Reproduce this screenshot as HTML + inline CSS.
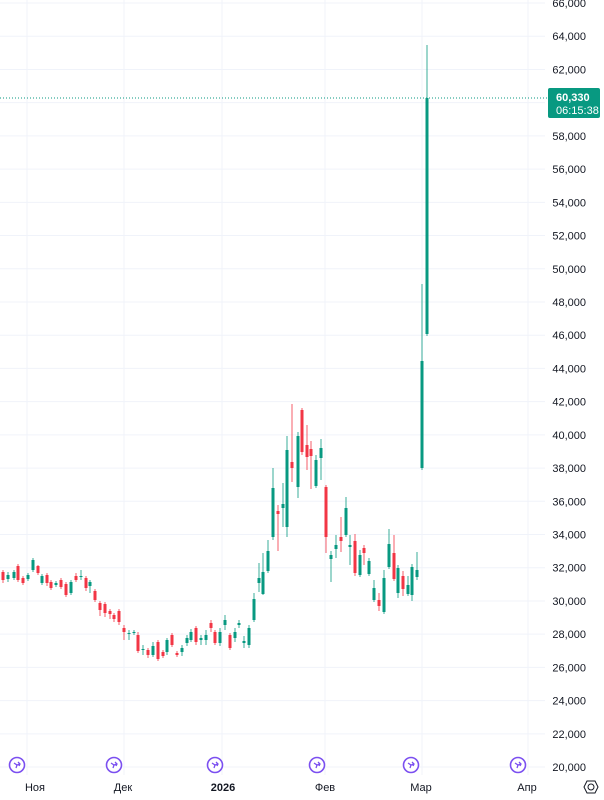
<!DOCTYPE html>
<html><head><meta charset="utf-8"><style>
body{margin:0;background:#fff;width:604px;height:800px;overflow:hidden}
svg{display:block;font-family:"Liberation Sans",sans-serif}
</style></head><body>
<svg id="s" width="604" height="800" xmlns="http://www.w3.org/2000/svg"></svg>
<script>
const s=document.getElementById('s');let h='';
const Y=v=>3+(66000-v)/2000*33.22;
for(let v=20000;v<=66000;v+=2000){const y=Y(v);h+=`<line x1="0" x2="545" y1="${y}" y2="${y}" stroke="#f0f3fa"/>`;
h+=`<text x="586" y="${y+4}" font-size="11" fill="#131722" text-anchor="end">${(v/1000)},000</text>`;}
[27,124,222,325,422,528].forEach(x=>h+=`<line x1="${x}" x2="${x}" y1="0" y2="775" stroke="#f0f3fa"/>`);
// candles: x, bodyTop, bodyBot, wickTop, wickBot, green?
const c=[[3,572,580,570,583,0],[8,575,579,572,582,1],[14,572,578,570,580,1],[18,566,580,564,582,0],[23,578,583,576,585,0],[28,575,579,573,581,1],[33,560,570,558,572,1],[38,566,573,565,575,0],[42,576,583,574,585,1],[47,575,583,573,586,0],[51,582,588,580,590,0],[56,583,585,581,587,1],[61,580,587,578,589,0],[66,584,595,582,597,0],[71,582,593,580,595,1],[76,576,580,573,582,0],[81,576,577,570,580,1],[86,578,588,576,591,0],[90,582,586,580,593,1],[95,591,600,589,602,0],[100,603,610,601,616,0],[105,604,613,602,617,0],[110,611,614,609,619,0],[114,615,619,613,622,0],[119,611,622,609,625,0],[124,628,632,625,640,0],[129,633,634,630,640,1],[134,632,633,630,635,1],[138,635,651,632,653,0],[143,649,650,645,655,1],[148,650,655,648,658,0],[153,646,655,642,657,1],[158,642,659,640,661,0],[163,652,656,650,658,0],[167,640,652,638,655,1],[172,635,645,633,647,0],[177,653,655,651,657,0],[182,648,652,645,656,1],[187,638,643,635,646,1],[191,632,640,629,642,1],[196,628,642,626,645,0],[201,638,640,635,645,1],[206,635,640,630,645,1],[211,623,628,620,632,0],[215,632,643,630,645,0],[220,632,643,628,646,1],[225,620,625,615,630,1],[230,635,648,633,650,0],[235,632,638,628,642,1],[239,623,625,620,628,1],[244,641,643,636,648,1],[249,628,645,625,648,1],[254,599,620,593,622,1],[259,578,583,563,592,1],[263,572,594,553,595,1],[268,551,571,540,573,1],[273,488,537,468,540,1],[278,511,514,505,551,0],[283,504,508,483,527,1],[287,450,527,436,537,1],[292,462,468,404,482,0],[298,436,487,432,498,1],[302,410,452,408,455,0],[307,445,457,425,470,0],[311,449,456,441,489,0],[316,460,486,455,488,1],[321,448,458,439,480,1],[326,487,537,485,553,0],[331,555,559,551,582,1],[336,545,549,535,558,1],[341,537,541,517,552,0],[346,508,535,497,537,1],[350,545,547,535,565,1],[355,541,573,534,576,0],[360,555,575,550,577,1],[364,548,553,545,565,0],[369,561,574,558,576,1],[374,588,600,580,602,1],[379,600,606,593,611,0],[384,578,612,570,614,1],[389,544,567,529,569,1],[394,553,579,535,581,0],[398,568,593,565,598,1],[403,576,589,571,596,0],[408,585,594,576,596,1],[412,567,595,564,601,1],[417,570,577,552,580,1],[422,361,468,284,470,1],[427,98,334,45,336,1]];
c.forEach(([x,a,b,t,u,g])=>{const col=g?'#089981':'#f23645';
h+=`<line x1="${x}" x2="${x}" y1="${t}" y2="${u}" stroke="${col}" stroke-width="1" opacity="0.8"/>`;
h+=`<rect x="${x-1.5}" y="${a}" width="3" height="${Math.max(1,b-a)}" fill="${col}"/>`;});
h+=`<line x1="0" x2="548" y1="98" y2="98" stroke="#089981" stroke-dasharray="1,2"/>`;
h+=`<rect x="548" y="88" width="52" height="30" rx="2" fill="#089981"/>`;
h+=`<text x="556" y="101" font-size="11" fill="#fff" font-weight="bold">60,330</text>`;
h+=`<text x="556" y="114" font-size="11" fill="#fff">06:15:38</text>`;
[[17,35,'Ноя'],[114,123,'Дек'],[215,223,'2026'],[317,325,'Фев'],[411,421,'Мар'],[518,527,'Апр']].forEach(([ix,lx,t])=>{
h+=`<circle cx="${ix}" cy="765" r="7.5" fill="#fff" stroke="#7b4ff0" stroke-width="1.6"/><path d="M${ix-3} ${763} l3 2 l3 -1 M${ix} 765 l-1 3 M${ix+1} 762 l2 2 l-1 2" stroke="#7b4ff0" stroke-width="1.3" fill="none"/>`;
h+=`<text x="${lx}" y="791" font-size="11" fill="#131722" text-anchor="middle" ${t=='2026'?'font-weight="bold"':''}>${t}</text>`;});
h+=`<circle cx="591" cy="787" r="3" fill="none" stroke="#131722"/><path d="M587 781 L595 781 L598 787 L595 793 L587 793 L584 787 Z" fill="none" stroke="#131722"/>`;
s.innerHTML=h;
</script>
</body></html>
